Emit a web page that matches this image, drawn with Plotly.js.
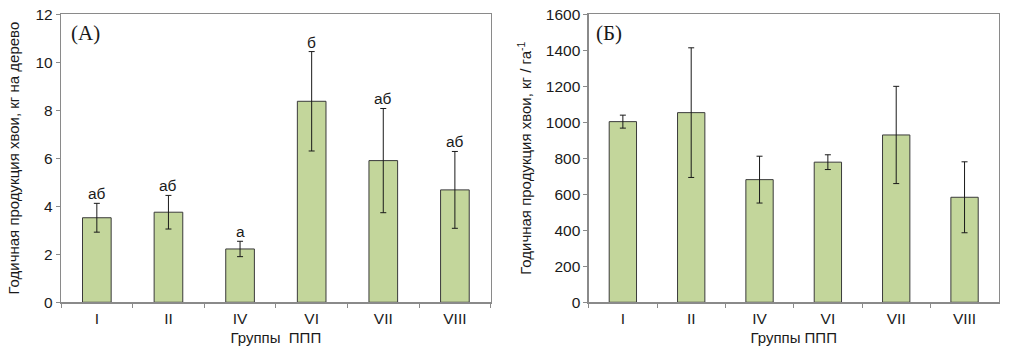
<!DOCTYPE html>
<html>
<head>
<meta charset="utf-8">
<script src="https://cdn.plot.ly/plotly-3.0.1.min.js"></script>
<style>html,body{margin:0;padding:0;background:#fff;}#chart{width:1024px;height:362px;}</style>
</head>
<body>
<div id="chart"></div>
<script>
const groups = ['I', 'II', 'IV', 'VI', 'VII', 'VIII'];
const perTree = [3.52, 3.75, 2.22, 8.37, 5.9, 4.68];
const perTreeErr = [0.6, 0.7, 0.32, 2.07, 2.17, 1.6];
const perTreeLetters = ['аб', 'аб', 'а', 'б', 'аб', 'аб'];
const perHa = [1003, 1053, 681, 778, 929, 583];
const perHaErr = [36, 360, 130, 41, 270, 197];

const barColor = '#c3d69b';
const axisColor = '#8a8a8a';
const sans = "Arial, 'Liberation Sans', sans-serif";
const serif = "'Times New Roman', 'Liberation Serif', serif";
const tickFont = {family: sans, size: 15.5, color: '#1a1a1a'};
const titleFont = {family: sans, size: 15, color: '#1a1a1a'};

function barTrace(y, err, xa, ya) {
  return {
    type: 'bar', x: groups, y: y, xaxis: xa, yaxis: ya, width: 0.4,
    marker: {color: barColor, line: {color: '#3a3a3a', width: 1}},
    error_y: {type: 'data', array: err, visible: true, color: '#1a1a1a', thickness: 1, width: 3},
    hoverinfo: 'none', showlegend: false
  };
}

const xCommon = {
  type: 'category', showline: true, linecolor: axisColor, linewidth: 1.3, mirror: true,
  ticks: 'outside', tickson: 'boundaries', ticklen: 4, tickcolor: axisColor,
  ticklabelstandoff: 2,
  showgrid: false, zeroline: false, tickfont: tickFont, fixedrange: true
};
const yCommon = {
  showline: true, linecolor: axisColor, linewidth: 1.3, mirror: true,
  ticks: 'outside', ticklen: 4, tickcolor: axisColor,
  showgrid: false, zeroline: false, tickfont: tickFont, fixedrange: true
};

const annotations = perTreeLetters.map((t, i) => ({
  x: groups[i], y: perTree[i] + perTreeErr[i], xref: 'x', yref: 'y',
  text: t, showarrow: false, yanchor: 'bottom', yshift: -1,
  font: {family: sans, size: 15.5, color: '#1a1a1a'}
}));
annotations.push({
  text: '(A)', xref: 'x domain', yref: 'y domain', x: 0.018, y: 0.934,
  xanchor: 'left', yanchor: 'middle', showarrow: false,
  font: {family: serif, size: 21, color: '#1a1a1a'}
});
annotations.push({
  text: '(Б)', xref: 'x2 domain', yref: 'y2 domain', x: 0.012, y: 0.934,
  xanchor: 'left', yanchor: 'middle', showarrow: false,
  font: {family: serif, size: 21, color: '#1a1a1a'}
});

const layout = {
  width: 1024, height: 362,
  margin: {l: 0, r: 0, t: 0, b: 0},
  paper_bgcolor: '#fff', plot_bgcolor: '#fff',
  showlegend: false, bargap: 0.6,
  xaxis: Object.assign({}, xCommon, {domain: [0.0596, 0.4792], anchor: 'y',
    title: {text: 'Группы&nbsp;&nbsp;ППП', font: titleFont, standoff: 6}}),
  yaxis: Object.assign({}, yCommon, {domain: [0.165, 0.961], anchor: 'x', range: [0, 12], dtick: 2,
    title: {text: 'Годичная продукция хвои, кг на дерево', font: titleFont, standoff: 12}}),
  xaxis2: Object.assign({}, xCommon, {domain: [0.5749, 0.9753], anchor: 'y2',
    title: {text: 'Группы ППП', font: titleFont, standoff: 6}}),
  yaxis2: Object.assign({}, yCommon, {domain: [0.165, 0.961], anchor: 'x2', range: [0, 1600], dtick: 200,
    title: {text: 'Годичная продукция хвои, кг / га<sup>-1</sup>', font: titleFont, standoff: 10}}),
  annotations: annotations
};

Plotly.newPlot('chart', [
  barTrace(perTree, perTreeErr, 'x', 'y'),
  barTrace(perHa, perHaErr, 'x2', 'y2')
], layout, {displayModeBar: false, staticPlot: true});
</script>
</body>
</html>
